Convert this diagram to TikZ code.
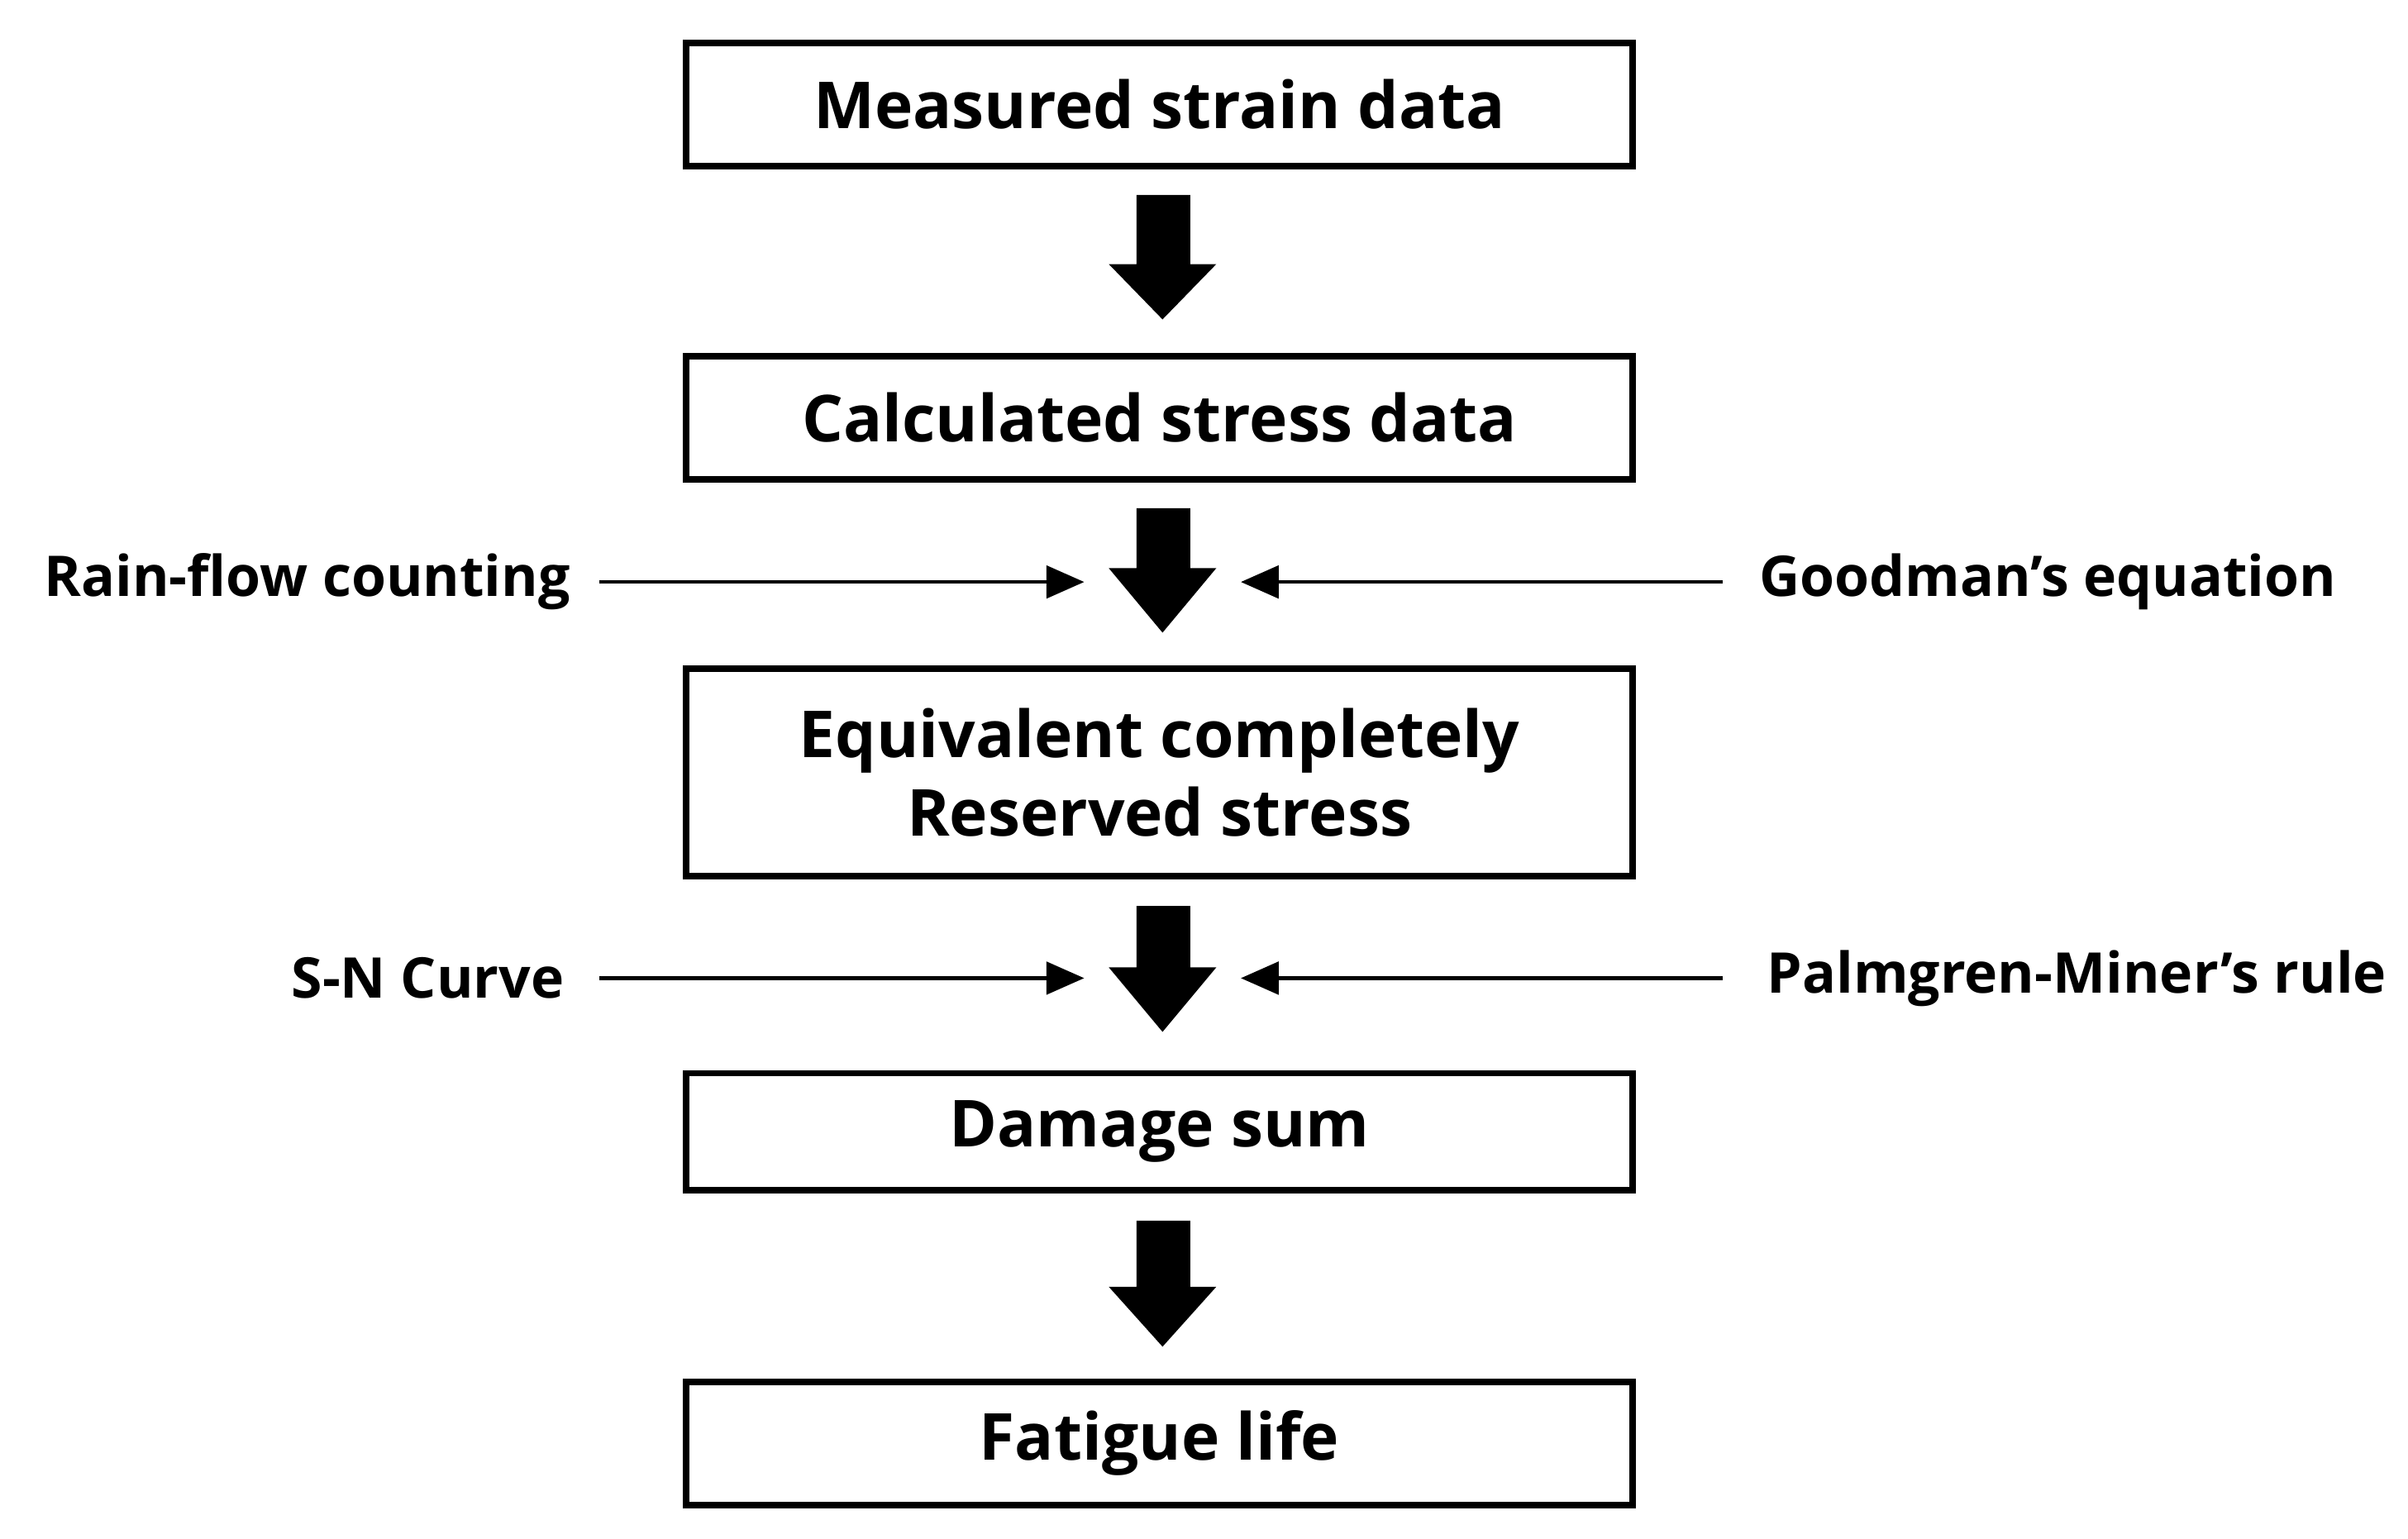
\documentclass[tikz,border=0pt]{standalone}
\usepackage{fontspec}
\setmainfont{Open Sans}
\usetikzlibrary{arrows.meta}
\begin{document}
\begin{tikzpicture}[x=0.01cm,y=-0.01cm,
  box/.style={draw,line width=1.2pt,minimum width=6.16cm,font=\bfseries\fontsize{12}{14.5}\selectfont,align=center,inner sep=0pt},
  thin/.style={line width=0.7pt,-{Triangle[length=7pt,width=6pt]}},
  lab/.style={font=\bfseries\fontsize{10.4}{12}\selectfont,inner sep=0pt}]
\useasboundingbox (0,0) rectangle (1568,1002);
\node[box,minimum height=0.80cm] (b1) at (755,68) {Measured strain data};
\node[box,minimum height=0.80cm] (b2) at (755,272) {Calculated stress data};
\node[box,minimum height=1.35cm] (b3) at (755,503) {Equivalent completely\\Reserved stress};
\node[box,minimum height=0.76cm] (b4) at (755,737) {Damage sum};
\node[box,minimum height=0.80cm] (b5) at (755,940) {Fatigue life};
\foreach \t/\h/\e in {127/172/208, 331/370/412, 590/630/672, 795/838/877}{
  \fill (740,\t) -- (775,\t) -- (775,\h) -- (792,\h) -- (757,\e) -- (722,\h) -- (740,\h) -- cycle;
}
\node[lab,anchor=east] (l1) at (372,379) {Rain-flow counting};
\node[lab,anchor=west] (r1) at (1145,379) {Goodman’s equation};
\node[lab,anchor=east] (l2) at (368,637) {S-N Curve};
\node[lab,anchor=west] (r2) at (1150,637) {Palmgren-Miner’s rule};
\coordinate (la) at (706,379); \coordinate (ra) at (808,379);
\coordinate (lb) at (706,637); \coordinate (rb) at (808,637);
\draw[thin] (390,379) -- (la);
\draw[thin] (1122,379) -- (ra);
\draw[thin] (390,637) -- (lb);
\draw[thin] (1122,637) -- (rb);
\end{tikzpicture}
\end{document}
